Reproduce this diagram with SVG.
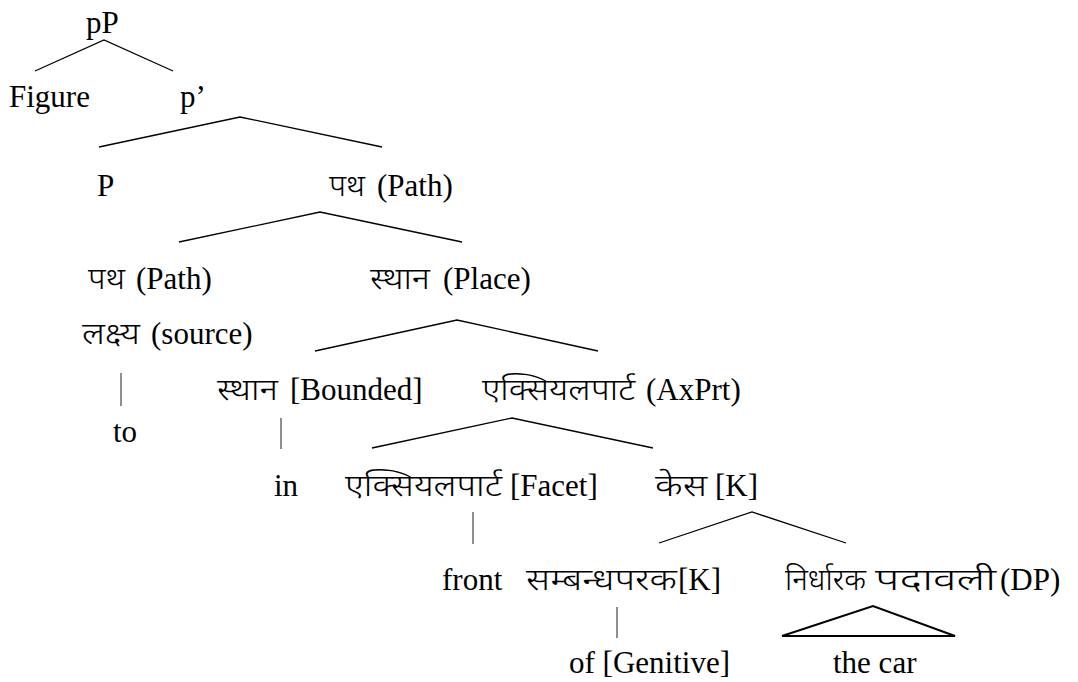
<svg xmlns="http://www.w3.org/2000/svg" width="1078" height="682" viewBox="0 0 1078 682">
<style>
.dv{font-family:"Noto Sans Devanagari","Lohit Devanagari","Noto Serif Devanagari","Mangal",sans-serif;font-size:30px;font-weight:300;fill:#000}
.t{font-family:"Liberation Serif","Times New Roman",serif;font-size:31px;font-weight:normal;font-style:normal;fill:#000}
.br{stroke:#000;stroke-width:1.3;fill:none}
.vl{stroke:#444;stroke-width:1.2}
.tri{stroke:#000;stroke-width:2;fill:none;stroke-linejoin:miter}
</style>
<rect width="1078" height="682" fill="#fff"/>
<g id="connectors">
<polyline class="br" points="35,71 104,40 173,71"/>
<polyline class="br" points="99,147 240,117 382,147"/>
<polyline class="br" points="179,242 320,212 462,242"/>
<polyline class="br" points="315,351 457,320 598,351"/>
<polyline class="br" points="372,448 512,418 653,448"/>
<polyline class="br" points="659,543 752,512 846,543"/>
<line class="vl" x1="121" y1="373" x2="121" y2="406"/>
<line class="vl" x1="281" y1="418" x2="281" y2="449"/>
<line class="vl" x1="473" y1="512" x2="473" y2="544"/>
<line class="vl" x1="617" y1="607" x2="617" y2="638"/>
<polygon class="tri" points="782,636 873,606 955,636"/>
</g>
<g id="n-pP"><text class="t" x="86" y="33">pP</text></g>
<g id="n-figure"><text class="t" x="9" y="107">Figure</text></g>
<g id="n-pbar"><text class="t" x="180" y="107">p’</text></g>
<g id="n-P"><text class="t" x="97" y="196">P</text></g>
<g id="n-path1"><text class="dv" x="329" y="196" textLength="36" lengthAdjust="spacingAndGlyphs">पथ</text><text class="t" x="377" y="196">(Path)</text></g>
<g id="n-path2"><text class="dv" x="88" y="289" textLength="37" lengthAdjust="spacingAndGlyphs">पथ</text><text class="t" x="136" y="289">(Path)</text></g>
<g id="n-source"><text class="dv" x="82" y="344" textLength="58" lengthAdjust="spacingAndGlyphs">लक्ष्य</text><text class="t" x="151" y="344">(source)</text></g>
<g id="n-place"><text class="dv" x="370" y="289" textLength="60" lengthAdjust="spacingAndGlyphs">स्थान</text><text class="t" x="443" y="289">(Place)</text></g>
<g id="n-bounded"><text class="dv" x="217" y="400" textLength="61" lengthAdjust="spacingAndGlyphs">स्थान</text><text class="t" x="290" y="400">[Bounded]</text></g>
<g id="n-to"><text class="t" x="113" y="442">to</text></g>
<g id="n-axprt"><text class="dv" x="482" y="400" textLength="153" lengthAdjust="spacingAndGlyphs">एक्सियलपार्ट</text><text class="t" x="646" y="400">(AxPrt)</text></g>
<g id="n-in"><text class="t" x="274" y="496">in</text></g>
<g id="n-facet"><text class="dv" x="345" y="496" textLength="157" lengthAdjust="spacingAndGlyphs">एक्सियलपार्ट</text><text class="t" x="510" y="496">[Facet]</text></g>
<g id="n-K"><text class="dv" x="655" y="496" textLength="52" lengthAdjust="spacingAndGlyphs">केस</text><text class="t" x="715" y="496">[K]</text></g>
<g id="n-front"><text class="t" x="442" y="590">front</text></g>
<g id="n-genK"><text class="dv" x="526" y="590" textLength="151" lengthAdjust="spacingAndGlyphs">सम्बन्धपरक</text><text class="t" x="678" y="590">[K]</text></g>
<g id="n-DP"><text class="dv" x="785" y="590" textLength="81" lengthAdjust="spacingAndGlyphs">निर्धारक</text><text class="dv" x="875" y="590" textLength="121" lengthAdjust="spacingAndGlyphs">पदावली</text><text class="t" x="1000" y="590">(DP)</text></g>
<g id="n-genitive"><text class="t" x="569" y="673">of [Genitive]</text></g>
<g id="n-thecar"><text class="t" x="833" y="673">the car</text></g>
</svg>
